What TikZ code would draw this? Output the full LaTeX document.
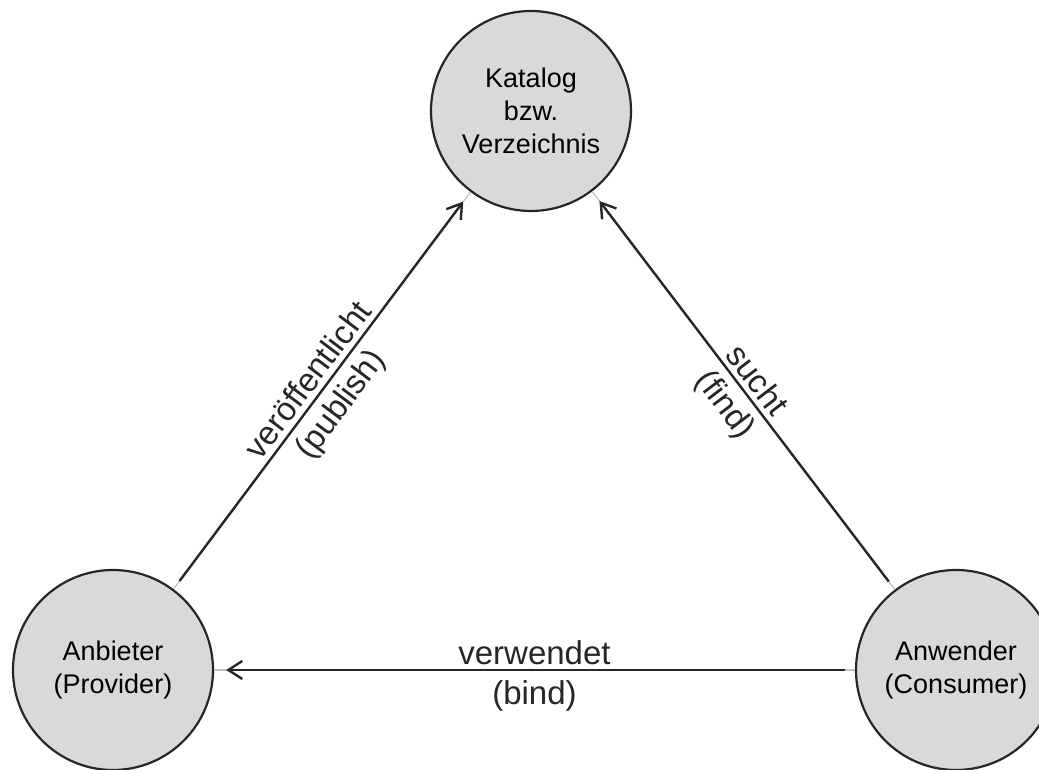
\documentclass[tikz,border=0pt]{standalone}
\usepackage{fontspec}
\setmainfont{Liberation Sans}
\usetikzlibrary{arrows.meta}

\begin{document}
\begin{tikzpicture}[x=1pt, y=1pt,
    role/.style={circle, draw=black!85, line width=2.2pt, fill=black!15, minimum size=200pt,
      inner sep=0pt, align=center, font=\fontsize{27}{33}\selectfont},
    flow/.style={-{Straight Barb[length=14pt, width=18pt, line width=2.4pt]}, line width=2.4pt,
      black!85, shorten <=10pt, shorten >=12pt},
    stub/.style={black!25, line width=1.2pt},
    tag/.style={font=\fontsize{33}{40}\selectfont, inner sep=3pt, text=black!85}]
    \useasboundingbox (0,0) rectangle (1039,770);
    \node[role] (katalog)  at (531,659) {Katalog\\bzw.\\Verzeichnis};
    \node[role] (anbieter) at (113,100) {Anbieter\\(Provider)};
    \node[role] (anwender) at (956,100) {Anwender\\(Consumer)};

    \draw[stub] (anbieter) -- (katalog);
    \draw[stub] (anwender) -- (katalog);
    \draw[stub] (anwender) -- (anbieter);

    \draw[flow] (anbieter) -- node[tag, sloped, above=2pt] {veröffentlicht}
                              node[tag, sloped, below=5pt] {(publish)} (katalog);
    \draw[flow] (anwender) -- node[tag, sloped, above=2pt] {sucht}
                              node[tag, sloped, below=5pt] {(find)} (katalog);
    \draw[flow] (anwender) -- node[tag, above=1pt] {verwendet}
                              node[tag, below=6pt] {(bind)} (anbieter);
\end{tikzpicture}
\end{document}
